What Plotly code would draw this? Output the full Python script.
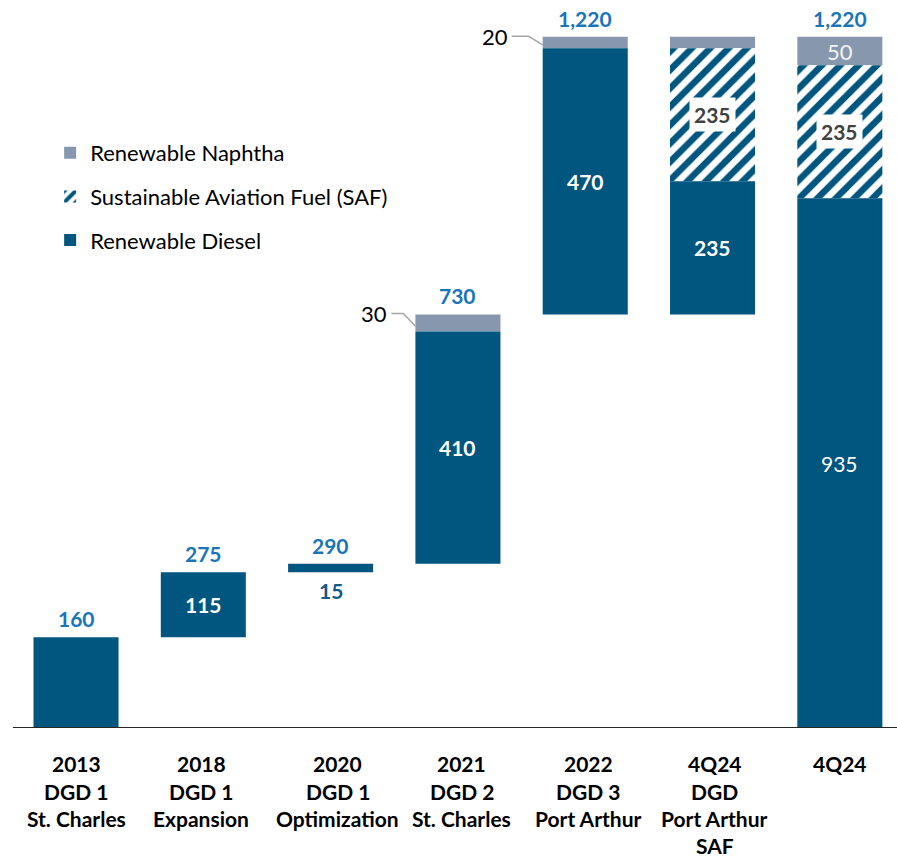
import plotly.graph_objects as go

# Capacity build-up (million gallons per year)
categories = [
    ["2013", "DGD 1", "St. Charles"],
    ["2018", "DGD 1", "Expansion"],
    ["2020", "DGD 1", "Optimization"],
    ["2021", "DGD 2", "St. Charles"],
    ["2022", "DGD 3", "Port Arthur"],
    ["4Q24", "DGD", "Port Arthur", "SAF"],
    ["4Q24"],
]
base = [0, 160, 275, 290, 730, 730, 0]
diesel = [160, 115, 15, 410, 470, 235, 935]
saf = [0, 0, 0, 0, 0, 235, 235]
naphtha = [0, 0, 0, 30, 20, 20, 50]
totals = [160, 275, 290, 730, 1220, 1220, 1220]
total_labels = ["160", "275", "290", "730", "1,220", "", "1,220"]

DIESEL = "#00567E"
NAPHTHA = "#8798AE"
TOTAL_BLUE = "#1A75B8"
FONT = "Lato"

n = len(categories)
xs = list(range(n))
bar_w = 0.668

fig = go.Figure()

saf_base = [b + d for b, d in zip(base, diesel)]
nap_base = [b + d + s for b, d, s in zip(base, diesel, saf)]

fig.add_trace(go.Bar(
    x=xs, y=naphtha, base=nap_base, width=bar_w, name="Renewable Naphtha",
    marker=dict(color=NAPHTHA, line=dict(width=0)), legendgroup="n",
))
fig.add_trace(go.Bar(
    x=xs, y=saf, base=saf_base, width=bar_w, name="Sustainable Aviation Fuel (SAF)",
    marker=dict(color="white", line=dict(width=0),
                pattern=dict(shape="/", fgcolor=DIESEL, bgcolor="white",
                             fgopacity=1, size=13, solidity=0.5)),
    legendgroup="s",
))
fig.add_trace(go.Bar(
    x=xs, y=diesel, base=base, width=bar_w, name="Renewable Diesel",
    marker=dict(color=DIESEL, line=dict(width=0)), legendgroup="d",
))

ann = []
# totals above each bar
for i in xs:
    if total_labels[i]:
        ann.append(dict(x=i, y=totals[i], text=f"<b>{total_labels[i]}</b>",
                        showarrow=False, yanchor="bottom", yshift=4,
                        font=dict(family=FONT, size=21, color=TOTAL_BLUE)))

# diesel segment labels
for i in xs:
    mid = base[i] + diesel[i] / 2
    if i == 0:
        continue
    if i == 2:
        ann.append(dict(x=i, y=base[i], text=f"<b>{diesel[i]}</b>", showarrow=False,
                        yanchor="top", yshift=-4,
                        font=dict(family=FONT, size=21, color="#155A86")))
    elif i == 6:
        ann.append(dict(x=i, y=mid, text=f"{diesel[i]}", showarrow=False,
                        font=dict(family=FONT, size=21, color="white")))
    else:
        ann.append(dict(x=i, y=mid, text=f"<b>{diesel[i]}</b>", showarrow=False,
                        font=dict(family=FONT, size=21, color="white")))

# SAF segment labels on white boxes
for i in xs:
    if saf[i]:
        ann.append(dict(x=i, y=saf_base[i] + saf[i] / 2, text=f"<b>{saf[i]}</b>",
                        showarrow=False, bgcolor="white", borderpad=4,
                        font=dict(family=FONT, size=21, color="#404040")))

# naphtha: label inside the last bar, leader-line callouts on the 2021/2022 bars
ann.append(dict(x=6, y=nap_base[6] + naphtha[6] / 2, text=f"{naphtha[6]}",
                showarrow=False, font=dict(family=FONT, size=22, color="#F2F2F2")))

px_per_unit = 127.3
callouts = {3: (24, 12), 4: (31, 14)}
for i, (start_px, knee_px) in callouts.items():
    left = i - bar_w / 2
    y_end = nap_base[i] + naphtha[i] * 0.3
    y_lvl = nap_base[i] + naphtha[i] * 1.05
    pts_x = [left - start_px / px_per_unit, left - knee_px / px_per_unit, left]
    pts_y = [y_lvl, y_lvl, y_end]
    fig.add_trace(go.Scatter(x=pts_x, y=pts_y, mode="lines", showlegend=False,
                             hoverinfo="skip",
                             line=dict(color="#A6A6A6", width=1.5)))
    ann.append(dict(x=pts_x[0], y=y_lvl, text=f"{naphtha[i]}", showarrow=False,
                    xanchor="right", xshift=-2,
                    font=dict(family=FONT, size=22, color="black")))

# category labels below the axis, one line at a time
line_offsets = [35, 63, 90, 117]
label_xshift = [0, -2, 7, 4, 3, 2, 0]
for i, lines in enumerate(categories):
    for k, t in enumerate(lines):
        ann.append(dict(x=i, y=0, text=f"<b>{t}</b>", showarrow=False,
                        yanchor="middle", yshift=-line_offsets[k],
                        xshift=label_xshift[i], borderpad=0,
                        font=dict(family=FONT, size=21, color="black")))

fig.update_layout(
    width=897, height=859,
    margin=dict(l=13, r=0, t=10, b=131),
    paper_bgcolor="white", plot_bgcolor="white",
    barmode="overlay",
    annotations=ann,
    showlegend=True,
    legend=dict(x=0.042, y=0.83, xanchor="left", yanchor="top",
                traceorder="grouped", tracegroupgap=12,
                bgcolor="rgba(0,0,0,0)",
                font=dict(family=FONT, size=22, color="black")),
    xaxis=dict(range=[-0.495, 6.449], showticklabels=False, showgrid=False,
               zeroline=False, ticks="", fixedrange=True),
    yaxis=dict(range=[0, 1267.4], visible=False, fixedrange=True),
    shapes=[dict(type="line", xref="paper", yref="y", x0=0, x1=1, y0=0, y1=0,
                 line=dict(color="#262626", width=2))],
)

fig.write_html("out.html")
